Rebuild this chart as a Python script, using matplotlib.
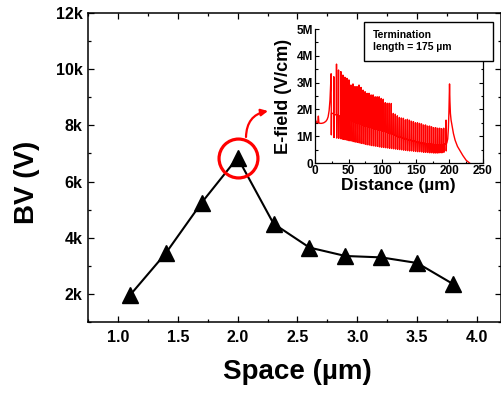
import matplotlib
matplotlib.use('Agg')
import matplotlib.pyplot as plt
from matplotlib.ticker import MultipleLocator, FixedLocator, FixedFormatter
from matplotlib.patches import Rectangle

# ---------------- main data ----------------
space_um = [1.1, 1.4, 1.7, 2.0, 2.3, 2.6, 2.9, 3.2, 3.5, 3.8]
bv_volts = [1950, 3450, 5250, 6850, 4500, 3650, 3350, 3300, 3100, 2350]

bv_ticks = [2000, 4000, 6000, 8000, 10000, 12000]
bv_labels = ['2k', '4k', '6k', '8k', '10k', '12k']
space_ticks = [1.0, 1.5, 2.0, 2.5, 3.0, 3.5, 4.0]
space_labels = ['1.0', '1.5', '2.0', '2.5', '3.0', '3.5', '4.0']

# ---------------- inset data (E-field in MV/cm) ----------------
lead_x = [0, 1.5, 3, 4.2, 5, 5.8, 7, 10, 13, 16, 18, 19.5, 21, 22.3, 23.3]
lead_y = [1.65, 1.55, 1.50, 1.52, 1.75, 1.50, 1.48, 1.48, 1.50, 1.55, 1.62, 1.72, 1.95, 2.35, 2.9]

ring_x = [24, 28, 32, 35, 38.5, 41.5, 44.5, 47.5, 50.5, 53.5, 56.5, 59.5, 62.5, 65.5,
          68.5, 71.5, 74.5, 77.5, 80.5, 83.5, 86.5, 89.5, 92.5, 95.5, 98.5, 101.5,
          104.5, 107.5, 110.5, 113.5, 116.5, 119.5, 122.5, 125.5, 128.5, 131.5, 134.5,
          137.5, 140.5, 143.5, 146.5, 149.5, 152.5, 155.5, 158.5, 161.5, 164.5, 167.5,
          170.5, 173.5, 176.5, 179.5, 182.5, 185.5, 188.5, 191.5, 195]
ring_peak = [3.33, 3.22, 3.69, 3.47, 3.41, 3.28, 3.20, 3.16, 3.10, 2.91, 2.95, 2.85, 2.85, 2.91,
             2.82, 2.72, 2.66, 2.60, 2.60, 2.54, 2.54, 2.47, 2.47, 2.47, 2.41, 2.38,
             2.25, 2.23, 2.23, 2.22, 1.85, 1.82, 1.76, 1.70, 1.68, 1.67, 1.61,
             1.63, 1.60, 1.56, 1.54, 1.50, 1.50, 1.48, 1.46, 1.42, 1.42, 1.38,
             1.38, 1.35, 1.32, 1.32, 1.30, 1.30, 1.28, 1.30, 1.60]
ring_dip = [1.05, 0.95, 0.93, 0.92, 0.90, 0.88, 0.87, 0.85, 0.83, 0.82, 0.80, 0.78, 0.77, 0.75,
            0.73, 0.72, 0.70, 0.68, 0.67, 0.65, 0.64, 0.63, 0.62, 0.60, 0.59, 0.58,
            0.57, 0.56, 0.55, 0.54, 0.53, 0.52, 0.51, 0.50, 0.49, 0.48, 0.47,
            0.46, 0.45, 0.45, 0.44, 0.43, 0.42, 0.42, 0.41, 0.40, 0.40, 0.39,
            0.38, 0.38, 0.37, 0.37, 0.37, 0.38, 0.38, 0.40, 0.45]
ring_mid = [1.85, 1.80, 1.78, 1.75, 1.72, 1.69, 1.66, 1.63, 1.60, 1.57, 1.54, 1.51, 1.48, 1.46,
            1.43, 1.40, 1.38, 1.35, 1.33, 1.30, 1.28, 1.26, 1.24, 1.22, 1.20, 1.18,
            1.15, 1.12, 1.10, 1.07, 1.04, 1.01, 0.98, 0.96, 0.93, 0.91, 0.89,
            0.87, 0.85, 0.83, 0.81, 0.79, 0.77, 0.76, 0.74, 0.73, 0.72, 0.71,
            0.70, 0.69, 0.68, 0.68, 0.67, 0.67, 0.68, 0.70, 0.75]

tail_x = [197.5, 198.5, 199.3, 199.8, 200.2, 200.8, 201.5, 202.5, 203.5, 206, 208.5, 212, 216, 220, 225, 230]
tail_y = [0.90, 1.30, 1.90, 2.60, 2.95, 2.30, 1.85, 1.60, 1.45, 1.10, 0.85, 0.62, 0.45, 0.28, 0.10, 0.0]

efield_ticks = [0, 1, 2, 3, 4, 5]
efield_labels = ['0', '1M', '2M', '3M', '4M', '5M']
dist_ticks = [0, 50, 100, 150, 200, 250]
dist_labels = ['0', '50', '100', '150', '200', '250']

# build E-field trace from the read values
ex = list(lead_x)
ey = list(lead_y)
for i, (xi, pk, dp, md) in enumerate(zip(ring_x, ring_peak, ring_dip, ring_mid)):
    nxt = ring_x[i + 1] - 0.3 if i + 1 < len(ring_x) else xi + 1.2
    ex += [xi, xi + 0.3, xi + 0.6, nxt]
    ey += [pk, dp, md, md]
ex += tail_x
ey += tail_y

# ---------------- style ----------------
plt.rcParams['font.family'] = ['Liberation Sans', 'DejaVu Sans']
plt.rcParams['font.weight'] = 'bold'
plt.rcParams['axes.labelweight'] = 'bold'

W, H = 502, 394
fig = plt.figure(figsize=(W / 100, H / 100), dpi=100)

ax = fig.add_axes([88 / W, 1 - 322 / H, (501 - 88) / W, (322 - 13) / H])
ax.plot(space_um, bv_volts, color='black', lw=1.5, marker='^', ms=11, zorder=3)
ipk = bv_volts.index(max(bv_volts))
ax.plot([space_um[ipk]], [bv_volts[ipk]], marker='o', ms=28, mfc='none',
        mec='#ff0000', mew=2.3, zorder=4)

ax.set_xlim(0.75, 4.2)
ax.set_ylim(1000, 12000)
ax.xaxis.set_major_locator(FixedLocator(space_ticks))
ax.xaxis.set_major_formatter(FixedFormatter(space_labels))
ax.xaxis.set_minor_locator(MultipleLocator(0.25))
ax.yaxis.set_major_locator(FixedLocator(bv_ticks))
ax.yaxis.set_major_formatter(FixedFormatter(bv_labels))
ax.yaxis.set_minor_locator(MultipleLocator(1000))
ax.tick_params(which='both', direction='in', top=True, right=True, width=0.9)
ax.tick_params(which='major', length=4.5, labelsize=11.5)
ax.tick_params(axis='y', which='major', pad=4)
ax.tick_params(axis='x', which='major', pad=6)
ax.tick_params(which='minor', length=2.5)
for s in ax.spines.values():
    s.set_linewidth(1.1)

ax.set_xlabel('Space (µm)', fontsize=20, fontweight='bold')
ax.set_ylabel('BV (V)', fontsize=20, fontweight='bold')
ax.xaxis.label.set_va('center')
ax.yaxis.label.set_va('center')
ax.xaxis.set_label_coords(0.508, -0.162)
ax.yaxis.set_label_coords(-0.148, 0.453)

# arrow from circle to inset
ax.annotate('', xy=(268, H - 111), xycoords='figure pixels',
            xytext=(246, H - 137), textcoords='figure pixels',
            arrowprops=dict(arrowstyle='-|>', color='#ff0000', lw=1.6,
                            mutation_scale=10, shrinkA=0, shrinkB=0,
                            connectionstyle='arc3,rad=-0.4'))

# ---------------- inset ----------------
ins = fig.add_axes([315 / W, 1 - 163 / H, (483 - 315) / W, (163 - 29) / H])
ins.plot(ex, ey, color='#ff0000', lw=1.0)
ins.set_xlim(0, 250)
ins.set_ylim(0, 5)
ins.spines['top'].set_visible(False)
ins.xaxis.set_major_locator(FixedLocator(dist_ticks))
ins.xaxis.set_major_formatter(FixedFormatter(dist_labels))
ins.xaxis.set_minor_locator(MultipleLocator(25))
ins.yaxis.set_major_locator(FixedLocator(efield_ticks))
ins.yaxis.set_major_formatter(FixedFormatter(efield_labels))
ins.yaxis.set_minor_locator(MultipleLocator(0.5))
ins.tick_params(which='both', direction='in', right=True, top=False, width=0.8)
ins.tick_params(which='major', length=3, labelsize=8.5, pad=1.5)
ins.tick_params(which='minor', length=1.8)
for s in ins.spines.values():
    s.set_linewidth(0.9)
ins.set_xlabel('Distance (µm)', fontsize=12.5, fontweight='bold')
ins.set_ylabel('E-field (V/cm)', fontsize=13, fontweight='bold')
ins.xaxis.label.set_va('center')
ins.yaxis.label.set_va('center')
ins.xaxis.set_label_coords(0.494, -0.165)
ins.yaxis.set_label_coords(-0.19, 0.5)

# label box
fig.patches.append(Rectangle((364 / W, 1 - 61 / H), 129 / W, 39 / H,
                             transform=fig.transFigure, facecolor='white',
                             edgecolor='black', lw=1.0, zorder=5))
fig.text(373 / W, 1 - 41 / H, 'Termination\nlength = 175 µm', fontsize=7.5,
         fontweight='bold', ha='left', va='center', zorder=6)

fig.savefig('out.png', dpi=100)
